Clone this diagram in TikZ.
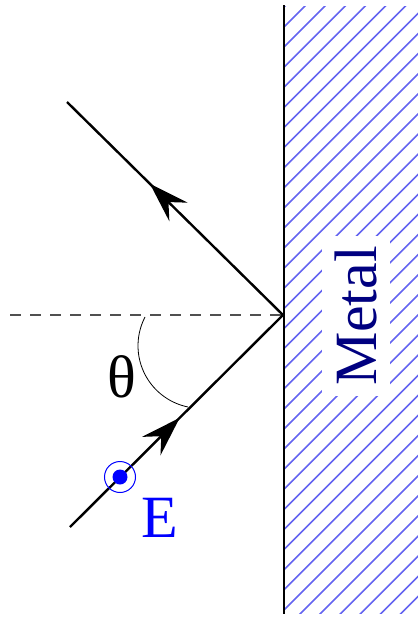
\documentclass[tikz,border=0pt]{standalone}
\usepackage{fontspec}
\setmainfont{Liberation Serif}
\usetikzlibrary{arrows.meta,decorations.markings}
\definecolor{metalnavy}{RGB}{0,0,128}
\definecolor{hatchblue}{RGB}{100,100,240}
\definecolor{dashgray}{RGB}{80,80,80}
\begin{document}
\begin{tikzpicture}[x=0.5pt,y=-0.5pt,
  ray/.style={line width=1.2pt},
  hatchline/.style={hatchblue,line width=0.8pt},
  bigtext/.style={font=\fontsize{30}{36}\selectfont,inner sep=0pt},
  midarrow/.style={postaction={decorate,decoration={markings,
     mark=at position #1 with {\arrow{Stealth[length=20pt,width=13pt,inset=7pt]}}}}}]
\useasboundingbox (0,0) rectangle (418,617);
% hatched metal
\begin{scope}
\clip (284,6) rectangle (418,613);
\foreach \i in {-2,...,40}{
  \draw[hatchline] (284,{27+20.1*\i}) -- ++(400,-400);
}
\end{scope}
\draw[line width=0.7pt] (284,5) -- (284,614);
\node[bigtext,text=metalnavy,fill=white,rotate=90,inner xsep=5pt,inner ysep=6.5pt] (metal) at (356,316) {Metal};
% geometry
\coordinate (S) at (70,527);
\coordinate (O) at (283,315);
\coordinate (R) at (67,102);
\coordinate (L) at (10,315);
\draw[dashgray,line width=0.7pt,dash pattern=on 5.5pt off 4.5pt] (L) -- (O);
\draw (200.5,345.75) ++(207.4:62.5) arc[start angle=207.4,end angle=101.5,radius=62.5];
\draw[ray,midarrow=0.515] (S) -- (O);
\draw[ray,midarrow=0.616] (O) -- (R);
\node[bigtext] (theta) at (122,376.5) {θ};
% E field out of plane
\node[circle,fill=blue,minimum size=7.5pt,inner sep=0pt] (dot) at (120,477) {};
\node[circle,draw=blue,line width=0.5pt,minimum size=15.5pt,inner sep=0pt] (ring) at (120,477) {};
\node[bigtext,text=blue] (E) at (159.5,518) {E};
\end{tikzpicture}
\end{document}
